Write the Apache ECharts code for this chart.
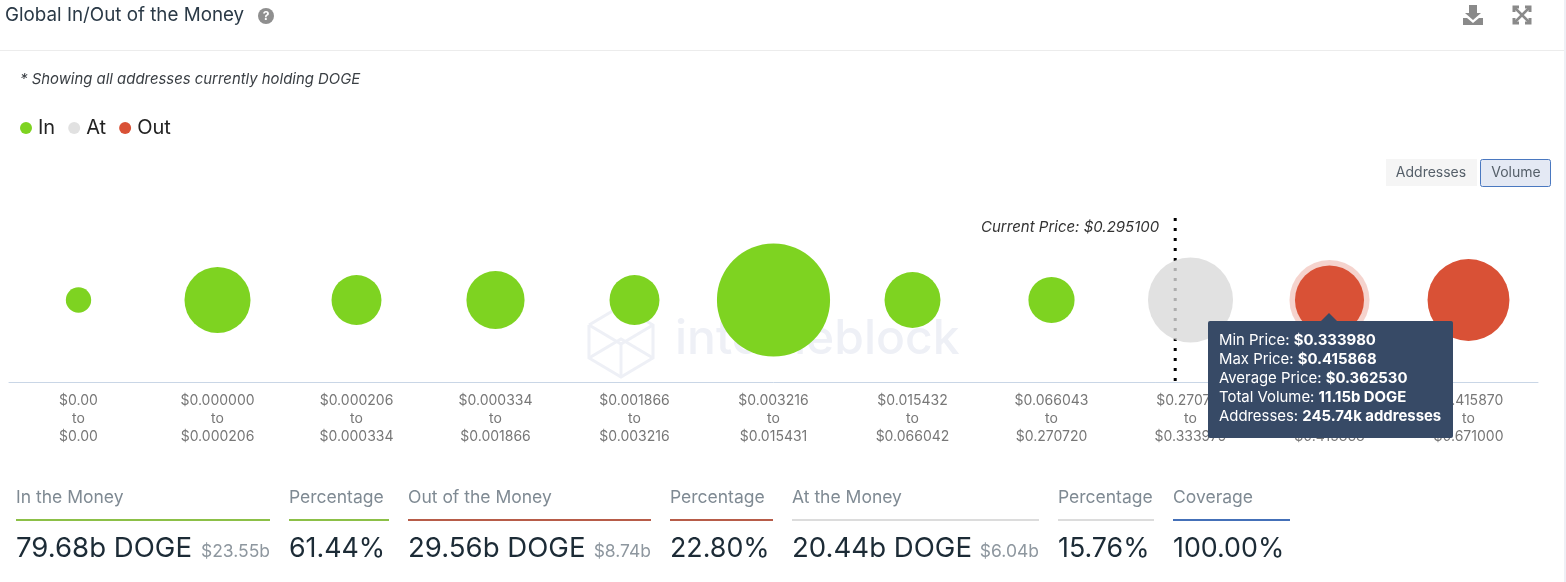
<!DOCTYPE html>
<html>
<head>
<meta charset="utf-8">
<title>Global In/Out of the Money</title>
<script src="https://cdn.jsdelivr.net/npm/echarts@6/dist/echarts.min.js"></script>
<style>
  html, body { margin: 0; padding: 0; background: #fff; }
  #main { width: 1566px; height: 582px; }
</style>
</head>
<body>
<div id="main"></div>
<script>
// price buckets, left to right
const minPrices = ["$0.00", "$0.000000", "$0.000206", "$0.000334", "$0.001866", "$0.003216", "$0.015432", "$0.066043", "$0.270721", "$0.333980", "$0.415870"];
const maxPrices = ["$0.00", "$0.000206", "$0.000334", "$0.001866", "$0.003216", "$0.015431", "$0.066042", "$0.270720", "$0.333979", "$0.415868", "$0.671000"];
const zones = ["In", "In", "In", "In", "In", "In", "In", "In", "At", "Out", "Out"];
// billions of DOGE
const volumes = [0.01, 9.7, 3.7, 6.4, 3.7, 43.6, 5.6, 2.7, 20.44, 11.15, 18.41];

const hoveredBucket = 9;
const hoveredAverage = "$0.362530";
const hoveredVolume = "11.15b DOGE";
const hoveredAddresses = "245.74k addresses";

const currentPriceLabel = "Current Price: $0.295100";
const currentPriceSlot = 7.89; // sits inside the 0.2707 - 0.3339 bucket

const statLabels = ["In the Money", "Percentage", "Out of the Money", "Percentage", "At the Money", "Percentage", "Coverage"];
const statValues = ["79.68b DOGE", "61.44%", "29.56b DOGE", "22.80%", "20.44b DOGE", "15.76%", "100.00%"];
const statUsd = ["$23.55b", "", "$8.74b", "", "$6.04b", "", ""];
const statColors = ["#8cc047", "#8cc047", "#b75c49", "#b75c49", "#dcdcdc", "#dcdcdc", "#4470b8"];
const statLeft = [16, 289, 408, 670, 792, 1058, 1173];
const statRight = [270, 389, 651, 773, 1039, 1154, 1290];

const FONT = "Inter";
const zoneColors = { In: "#7ed321", At: "rgba(217,217,217,0.8)", Out: "#d95136" };

function bubbleSize(v) {
  return 24 + 13.5 * Math.sqrt(v);
}

function bubbleSeries(name) {
  let data = [];
  volumes.forEach(function (v, i) {
    if (zones[i] == name) data.push([i, 1, v]);
  });
  return {
    name: name,
    type: "scatter",
    data: data,
    z: 3,
    symbolSize: function (val) {
      return bubbleSize(val[2]);
    },
    itemStyle: { color: zoneColors[name], opacity: 1 },
    emphasis: { disabled: true },
  };
}

function text(x, y, str, size, color, extra) {
  return {
    type: "text",
    x: x,
    y: y,
    z: 5,
    silent: true,
    style: Object.assign({
      text: str,
      fontFamily: FONT,
      fontSize: size,
      fill: color,
      textVerticalAlign: "middle",
    }, extra || {}),
  };
}

function line(x1, y1, x2, y2, color, width) {
  return {
    type: "line",
    z: 1,
    silent: true,
    shape: { x1: x1, y1: y1, x2: x2, y2: y2 },
    style: { stroke: color, lineWidth: width },
  };
}

// faint logo behind the bubbles
function watermark() {
  const c = "#eef0f6";
  const poly = function (pts) {
    return {
      type: "polyline",
      z: 0,
      silent: true,
      shape: { points: pts },
      style: { stroke: c, lineWidth: 3, fill: null },
    };
  };
  return [
    poly([[589, 325], [621, 306], [653, 325], [653, 358], [621, 377], [589, 358], [589, 325]]),
    poly([[589, 325], [621, 344], [653, 325]]),
    poly([[589, 358], [621, 339], [653, 358]]),
    poly([[621, 344], [621, 377]]),
    {
      type: "text",
      x: 675,
      y: 340,
      z: 0,
      silent: true,
      style: {
        text: "intotheblock",
        fontFamily: FONT,
        fontSize: 48,
        fontWeight: 500,
        fill: c,
        textVerticalAlign: "middle",
      },
    },
  ];
}

function headerIcons() {
  const c = "#8a8a8a";
  return [
    { type: "circle", z: 5, silent: true, shape: { cx: 266, cy: 16, r: 8 }, style: { fill: "#8f8f8f" } },
    text(266, 16.5, "?", 12, "#fff", { textAlign: "center", fontWeight: 700 }),
    // download
    { type: "polygon", z: 5, silent: true, shape: { points: [[1469, 5], [1477, 5], [1477, 13], [1481, 13], [1473, 20], [1465, 13], [1469, 13]] }, style: { fill: c } },
    { type: "polygon", z: 5, silent: true, shape: { points: [[1463, 18], [1467, 18], [1473, 23], [1479, 18], [1483, 18], [1483, 25], [1463, 25]] }, style: { fill: c } },
    // fullscreen
    { type: "polyline", z: 5, silent: true, shape: { points: [[1514, 12], [1514, 7], [1519, 7]] }, style: { stroke: c, lineWidth: 3, fill: null } },
    { type: "polyline", z: 5, silent: true, shape: { points: [[1525, 7], [1530, 7], [1530, 12]] }, style: { stroke: c, lineWidth: 3, fill: null } },
    { type: "polyline", z: 5, silent: true, shape: { points: [[1514, 18], [1514, 23], [1519, 23]] }, style: { stroke: c, lineWidth: 3, fill: null } },
    { type: "polyline", z: 5, silent: true, shape: { points: [[1525, 23], [1530, 23], [1530, 18]] }, style: { stroke: c, lineWidth: 3, fill: null } },
    line(1515, 8, 1529, 22, c, 2.5),
    line(1529, 8, 1515, 22, c, 2.5),
  ];
}

function buttons() {
  return [
    { type: "rect", z: 1, silent: true, shape: { x: 1386, y: 159, width: 91, height: 27 }, style: { fill: "#f5f5f5" } },
    text(1431, 173, "Addresses", 14, "#56606a", { textAlign: "center" }),
    { type: "rect", z: 1, silent: true, shape: { x: 1480.5, y: 159.5, width: 70, height: 27, r: 2 }, style: { fill: "#e4e9f4", stroke: "#4a78c0", lineWidth: 1 } },
    text(1516, 173, "Volume", 14, "#56606a", { textAlign: "center" }),
  ];
}

function statStrip() {
  let out = [];
  statLabels.forEach(function (label, i) {
    out.push(text(statLeft[i], 498, label, 17.5, "#7f8a93"));
    out.push(line(statLeft[i], 520, statRight[i], 520, statColors[i], 2));
    out.push(text(statLeft[i], 549, statValues[i], statUsd[i] ? 27.6 : 26.8, "#1c2b36"));
    if (statUsd[i]) {
      out.push(text(statRight[i], 552, statUsd[i], 17.5, "#8e979f", { textAlign: "right" }));
    }
  });
  return out;
}

var chartDom = document.getElementById("main");
var myChart = echarts.init(chartDom);
var option;

option = {
  animation: false,
  backgroundColor: "#fff",
  title: {
    text: "Global In/Out of the Money",
    left: 5,
    top: 6,
    padding: 0,
    textStyle: { fontFamily: FONT, fontSize: 18.8, fontWeight: 400, color: "#2b3a47" },
  },
  legend: {
    left: 20,
    top: 118,
    padding: 0,
    itemWidth: 12,
    itemHeight: 12,
    itemGap: 13,
    icon: "circle",
    data: ["In", "At", "Out"],
    textStyle: { fontFamily: FONT, fontSize: 20, color: "#222", padding: [0, 0, 0, 1] },
  },
  grid: { left: 9, top: 218, width: 1529, height: 164, containLabel: false },
  xAxis: [
    {
      type: "category",
      data: minPrices.map(function (p, i) {
        return p + "\nto\n" + maxPrices[i];
      }),
      axisLine: { lineStyle: { color: "#c9d6e6", width: 1 } },
      axisTick: { show: false },
      splitLine: { show: false },
      axisLabel: {
        interval: 0,
        margin: 10,
        lineHeight: 18,
        fontFamily: FONT,
        fontSize: 14,
        color: "#777",
      },
    },
    { type: "value", show: false, min: -0.5, max: 10.5 },
  ],
  yAxis: { type: "value", show: false, min: 0, max: 2 },
  tooltip: {
    trigger: "item",
    alwaysShowContent: true,
    transitionDuration: 0,
    backgroundColor: "#374a66",
    borderWidth: 0,
    padding: [10, 10, 12, 11],
    extraCssText: "border-radius:2px;box-shadow:none;width:224px;overflow:visible;",
    textStyle: { fontFamily: FONT, fontSize: 14.9, color: "#fff" },
    position: function () {
      return [1208, 321];
    },
    formatter: function (p) {
      const i = p.value[0];
      const row = function (k, v) {
        return '<div style="line-height:19px;white-space:nowrap">' + k + ": <b>" + v + "</b></div>";
      };
      return '<div style="position:absolute;left:113px;top:-8px;width:0;height:0;border-left:8px solid transparent;border-right:8px solid transparent;border-bottom:8px solid #374a66"></div>' +
        row("Min Price", minPrices[i]) +
        row("Max Price", maxPrices[i]) +
        row("Average Price", hoveredAverage) +
        row("Total Volume", hoveredVolume) +
        row("Addresses", hoveredAddresses);
    },
  },
  graphic: {
    elements: [
      line(0, 50.5, 1564, 50.5, "#ececec", 1),
      { type: "rect", z: 1, silent: true, shape: { x: 1564, y: 0, width: 2, height: 582 }, style: { fill: "#eef0f6" } },
      text(20, 80, "* Showing all addresses currently holding DOGE", 14.9, "#3a3f44", { fontStyle: "italic" }),
    ].concat(headerIcons(), buttons(), watermark(), statStrip()),
  },
  series: [
    {
      name: "Current Price",
      type: "line",
      xAxisIndex: 1,
      data: [
        {
          value: [currentPriceSlot, 2],
          label: {
            show: true,
            position: "left",
            distance: 16,
            offset: [0, 9],
            formatter: currentPriceLabel,
            fontFamily: FONT,
            fontStyle: "italic",
            fontSize: 15,
            color: "#333",
          },
        },
        [currentPriceSlot, 0],
      ],
      symbol: "circle",
      symbolSize: 0,
      showSymbol: true,
      silent: true,
      z: 1,
      lineStyle: { color: "#000", width: 3, type: [3, 7] },
    },
    {
      name: "Hover",
      type: "scatter",
      silent: true,
      z: 2,
      data: [[hoveredBucket, 1, volumes[hoveredBucket]]],
      symbolSize: function (val) {
        return bubbleSize(val[2]) + 11;
      },
      itemStyle: { color: "rgba(217,81,54,0.25)", opacity: 1 },
    },
    bubbleSeries("In"),
    bubbleSeries("At"),
    bubbleSeries("Out"),
  ],
};

option && myChart.setOption(option);
myChart.dispatchAction({ type: "showTip", seriesIndex: 4, dataIndex: 0 });
</script>
</body>
</html>
